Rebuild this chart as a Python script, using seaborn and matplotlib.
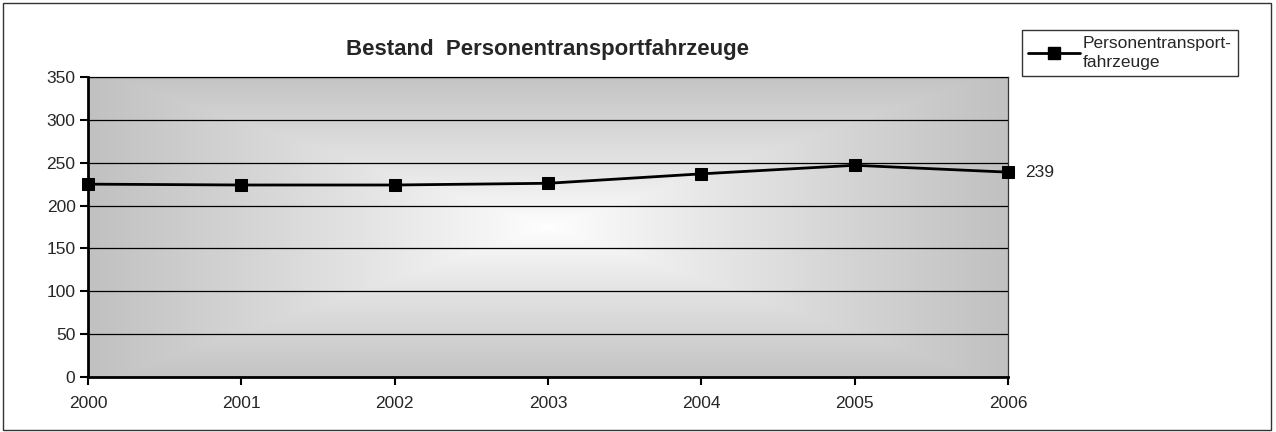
import numpy as np
import pandas as pd
import seaborn as sns
import matplotlib.pyplot as plt
from matplotlib.lines import Line2D
from matplotlib.patches import Rectangle

years = [2000, 2001, 2002, 2003, 2004, 2005, 2006]
bestand = [225, 224, 224, 226, 237, 247, 239]
series_name = "Personentransport-\nfahrzeuge"
title = "Bestand  Personentransportfahrzeuge"

df = pd.DataFrame({"Jahr": years, "Bestand": bestand})

sns.set_style("white")
plt.rcParams['font.family'] = ['Liberation Sans', 'DejaVu Sans']

fig = plt.figure(figsize=(12.76, 4.32), dpi=100)
ax = fig.add_axes([88 / 1276, 55 / 432, 920 / 1276, 300 / 432])

# gradient background (light in the centre, grey at the edges)
n = 300
gx, gy = np.meshgrid(np.linspace(-1, 1, n), np.linspace(-1, 1, n))
t = np.clip(np.maximum(np.abs(gx) * 0.95, np.abs(gy) * 0.9), 0, 1)
g = 1.0 - (1.0 - 190 / 255) * t ** 0.9
ax.imshow(np.dstack([g, g, g]), extent=(0, 1, 0, 1), transform=ax.transAxes,
          aspect='auto', zorder=0, interpolation='bilinear')

sns.lineplot(data=df, x="Jahr", y="Bestand", ax=ax, color="black", lw=2,
             marker="s", markersize=9, markeredgecolor="black", zorder=3,
             clip_on=False)

ax.set_xlim(2000, 2006)
ax.set_ylim(0, 350)
ax.set_xticks(years)
ax.set_xticklabels([str(y) for y in years])
ax.set_yticks(range(0, 351, 50))
ax.yaxis.grid(True, color="black", lw=0.9)
ax.set_axisbelow(False)
for line in ax.get_ygridlines():
    line.set_zorder(1)
ax.set_xlabel("")
ax.set_ylabel("")

for s in ["top", "right"]:
    ax.spines[s].set_linewidth(0.9)
    ax.spines[s].set_color("#333333")
for s in ["left", "bottom"]:
    ax.spines[s].set_linewidth(2)
    ax.spines[s].set_color("black")
    ax.spines[s].set_zorder(4)

ax.tick_params(axis='both', which='major', direction='out', length=6, width=1.5,
               color='black', labelsize=12.5, left=True, bottom=True)
ax.tick_params(axis='x', pad=8)
ax.tick_params(axis='y', pad=3)

ax.set_title(title, fontsize=16, fontweight='bold', pad=16)

# data label for last point
ax.annotate(str(bestand[-1]), xy=(years[-1], bestand[-1]), xytext=(12, 0),
            textcoords="offset points", va="center", ha="left", fontsize=12.5)

handle = Line2D([0], [0], color="black", lw=2, marker="s", markersize=9)
leg = fig.legend([handle], [series_name], loc="upper left",
                 bbox_to_anchor=(1022 / 1276, 1 - 30 / 432), frameon=True,
                 fancybox=False, fontsize=12.5, handlelength=3.0,
                 borderpad=0.35, handletextpad=0.15, borderaxespad=0)
leg.get_frame().set_edgecolor("black")
leg.get_frame().set_linewidth(1)
for txt in leg.get_texts():
    txt.set_linespacing(1.35)

# outer chart border
fig.patches.append(Rectangle((0.002, 0.004), 0.994, 0.99, transform=fig.transFigure,
                             fill=False, edgecolor="#333333", lw=1))

fig.savefig("out.png", dpi=100, facecolor="white")
